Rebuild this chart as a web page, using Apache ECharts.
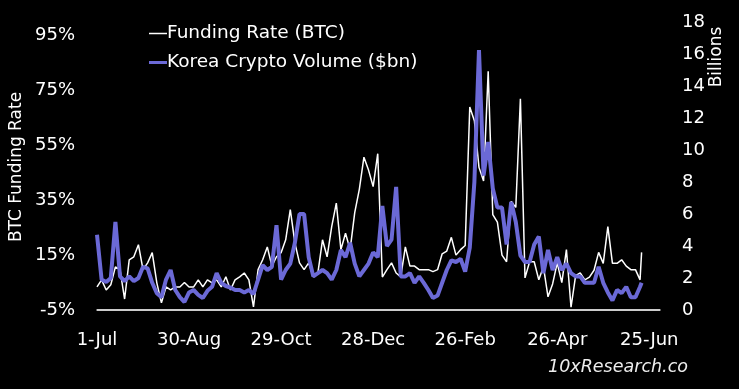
<!DOCTYPE html>
<html>
<head>
<meta charset="utf-8">
<script src="https://cdn.jsdelivr.net/npm/echarts@6/dist/echarts.min.js"></script>
<style>html,body{margin:0;padding:0;background:#000;}#c{width:739px;height:389px;}</style>
</head>
<body>
<div id="c"></div>
<script>
// Days since 1-Jul-2023
const days = [0,3,6,9,12,15,18,21,24,27,30,33,36,39,42,45,48,51,54,57,60,63,66,69,72,75,78,81,84,87,90,93,96,99,102,105,108,111,114,117,120,123,126,129,132,135,138,141,144,147,150,153,156,159,162,165,168,171,174,177,180,183,186,189,192,195,198,201,204,207,210,213,216,219,222,225,228,231,234,237,240,243,246,249,252,255,258,261,264,267,270,273,276,279,282,285,288,291,294,297,300,303,306,309,312,315,318,321,324,327,330,333,336,339,342,345,348,351,354,355];
// BTC funding rate (%)
const funding = [3.4,6,2.3,4.2,10.7,9.7,-1,13.3,14.4,18.8,9.7,12.2,15.9,4.9,-2.4,3.4,2.3,3.4,3.4,5,3.4,3.4,6,3.4,6,4.9,6,3.4,7.1,2.3,6,7.1,8.5,6,-3.9,9.7,13.3,18,11,14.4,15.9,20.6,31.6,19.5,12.2,9.7,12.2,7.1,8.5,20.6,14.4,25.4,34,17,23,17,30.5,39,50.7,46,40,52,7,9.7,12.2,8.5,7.1,18,11,11,9.7,9.7,9.7,9,9.7,15.5,16.5,21.5,15,17,18.5,69,64,47,42,82,29.8,27,15,12.6,34.6,32.4,72,6.7,12.6,12.6,6,10.8,-0.2,4.5,12.2,5,17,-4,7.5,8.5,6,7,9.5,16,12,25.4,12,12,13.3,11,9.7,9.7,6,16];
// Korea crypto volume ($bn)
const volume = [4.7,1.9,1.75,2.0,5.5,2.1,1.8,2.1,1.8,2.0,2.7,2.6,1.7,1.05,0.8,1.9,2.5,1.25,0.8,0.5,1.1,1.25,0.95,0.75,1.2,1.45,2.3,1.7,1.5,1.4,1.25,1.25,1.1,1.25,1.0,1.9,2.8,2.5,2.7,5.3,1.9,2.5,2.9,4.2,6.0,6.0,3.3,2.1,2.3,2.5,2.3,1.9,2.5,3.75,3.3,4.2,2.9,2.1,2.5,2.9,3.6,3.3,6.5,4.0,4.4,7.7,2.1,2.1,2.3,1.7,2.1,1.7,1.25,0.75,0.9,1.7,2.5,3.1,3.0,3.2,2.4,3.9,8.0,16.25,8.4,10.5,7.6,6.4,6.4,4.1,6.75,5.5,3.4,3.0,3.0,4.1,4.6,2.3,3.75,2.5,3.3,2.5,2.9,2.3,2.1,2.1,1.7,1.7,1.7,2.7,1.7,1.1,0.6,1.25,1.05,1.45,0.8,0.8,1.45,1.7];
const xTickLabels = ['1-Jul','30-Aug','29-Oct','28-Dec','26-Feb','26-Apr','25-Jun'];
const seriesNames = ['Funding Rate (BTC)','Korea Crypto Volume ($bn)'];

const FONT = '"DejaVu Sans"';
const WHITE = '#ffffff', PURPLE = '#6b69d6', AXIS = '#d9d9d9';
// legend icons: a horizontal bar inside an 18x14 box (tiny corner dots fix the box)
const box = 'M0,0h0.01v0.01h-0.01zM17.99,13.99h0.01v0.01h-0.01z';
const chart = echarts.init(document.getElementById('c'), null, {renderer:'canvas'});
chart.setOption({
  backgroundColor:'#000',
  animation:false,
  textStyle:{fontFamily:FONT,color:'#fff'},
  grid:{left:97,right:79,top:22,bottom:79,containLabel:false,outerBoundsMode:'none'},
  legend:{
    orient:'vertical',left:144,top:19,itemGap:10,itemWidth:18,itemHeight:14,
    textStyle:{color:'#fff',fontSize:18.5,fontFamily:FONT,padding:[0,0,0,-5]},
    data:[
      {name:seriesNames[0],icon:'path://M0,6.25h18v1.5h-18z'+box,itemStyle:{color:WHITE}},
      {name:seriesNames[1],icon:'path://M0,5.5h18v3h-18z'+box,itemStyle:{color:PURPLE}}
    ]
  },
  xAxis:{
    type:'value',min:0,max:367,interval:60,z:10,
    axisLine:{show:true,onZero:true,onZeroAxisIndex:1,lineStyle:{color:AXIS,width:1.5}},
    axisTick:{show:false},splitLine:{show:false},
    axisLabel:{color:'#fff',fontSize:18,margin:21,showMaxLabel:false,
      formatter:v=>xTickLabels[Math.round(v/60)]||''}
  },
  yAxis:[{
    type:'value',min:-5,max:100,interval:20,
    axisLine:{show:false},axisTick:{show:false},splitLine:{show:false},
    axisLabel:{color:'#fff',fontSize:18,margin:22,showMaxLabel:false,formatter:'{value}%'}
  },{
    type:'value',min:0,max:18,interval:2,position:'right',
    axisLine:{show:false},axisTick:{show:false},splitLine:{show:false},
    axisLabel:{color:'#fff',fontSize:18,margin:22}
  }],
  graphic:[
    {type:'text',x:17,y:167,rotation:Math.PI/2,
      style:{text:'BTC Funding Rate',fill:'#fff',font:'17px '+FONT,textAlign:'center',textVerticalAlign:'middle'}},
    {type:'text',x:717,y:57,rotation:Math.PI/2,
      style:{text:'Billions',fill:'#fff',font:'17px '+FONT,textAlign:'center',textVerticalAlign:'middle'}},
    {type:'text',x:688,y:367,
      style:{text:'10xResearch.co',fill:'#eee',font:'italic 17.5px '+FONT,textAlign:'right',textVerticalAlign:'middle'}}
  ],
  series:[{
    name:seriesNames[0],type:'line',yAxisIndex:0,symbol:'none',
    lineStyle:{color:WHITE,width:1.5},itemStyle:{color:WHITE},
    data:days.map((d,i)=>[d,funding[i]])
  },{
    name:seriesNames[1],type:'line',yAxisIndex:1,symbol:'none',clip:false,
    lineStyle:{color:PURPLE,width:4},itemStyle:{color:PURPLE},
    data:days.map((d,i)=>[d,volume[i]]),
    markLine:{silent:true,symbol:'none',label:{show:false},
      lineStyle:{color:AXIS,type:'solid',width:1.5},data:[{yAxis:0}]}
  }]
});
</script>
</body>
</html>
